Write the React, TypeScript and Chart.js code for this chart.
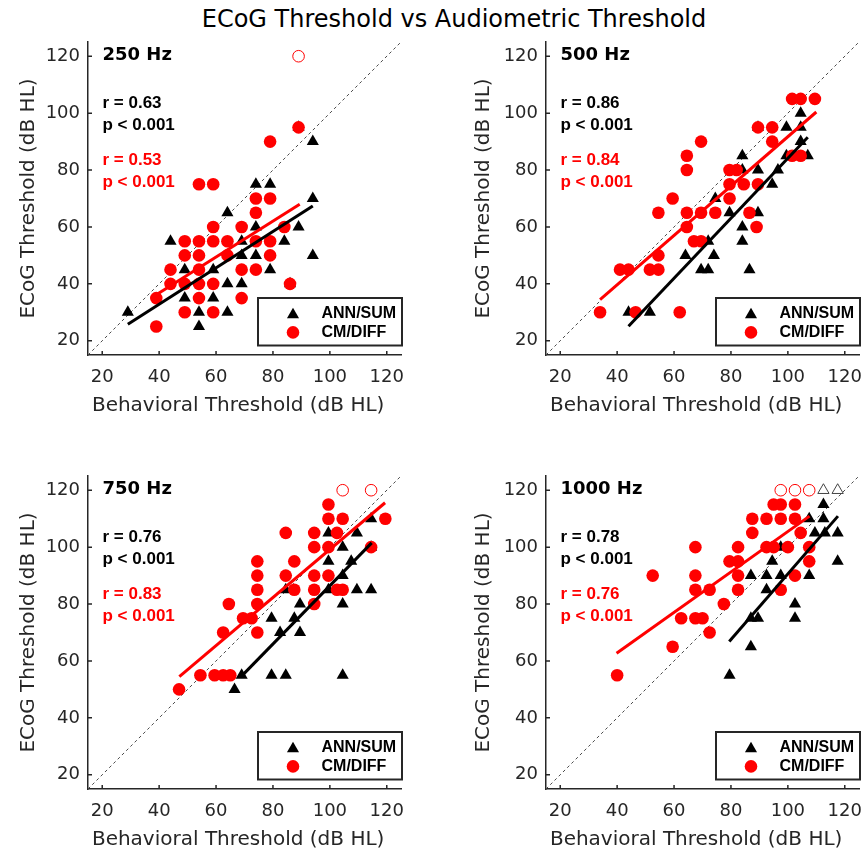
import React, { useEffect, useRef } from 'react';
import { Chart, registerables } from 'chart.js';

Chart.register(...registerables);

type Pt = [number, number];

// ---------- data ----------
const TICK_VALUES = [20, 40, 60, 80, 100, 120];
const AXIS_MIN = 15;
const AXIS_MAX = 125;

const FREQ_LABELS = ['250 Hz', '500 Hz', '750 Hz', '1000 Hz'];
const R_ANN = ['r = 0.63', 'r = 0.86', 'r = 0.76', 'r = 0.78'];
const R_CM = ['r = 0.53', 'r = 0.84', 'r = 0.83', 'r = 0.76'];
const P_ANN = ['p < 0.001', 'p < 0.001', 'p < 0.001', 'p < 0.001'];
const P_CM = ['p < 0.001', 'p < 0.001', 'p < 0.001', 'p < 0.001'];
const LEGEND_LABELS = ['ANN/SUM', 'CM/DIFF'];

const ANN_250: Pt[] = [[29,30],[44,55],[49,45],[49,35],[54,30],[54,25],[59,45],[59,35],[64,65],[64,40],[64,30],[69,40],[69,50],[69,55],[74,75],[79,75],[74,60],[74,50],[79,45],[84,55],[89,60],[94,70],[94,50],[86,40],[89,95],[94,90]];
const CM_250: Pt[] = [[54,75],[59,75],[74,70],[79,70],[74,65],[59,60],[69,60],[84,60],[49,55],[54,55],[59,55],[64,55],[74,55],[79,55],[49,50],[54,50],[64,50],[79,50],[44,45],[54,45],[69,45],[74,45],[44,40],[49,40],[54,40],[59,40],[86,40],[39,35],[54,35],[69,35],[49,30],[59,30],[39,25],[79,90],[89,95]];
const ANN_250_OPEN: Pt[] = [];
const CM_250_OPEN: Pt[] = [[89,120]];
const FIT_ANN_250: Pt[] = [[29,25.8],[94,67.4]];
const FIT_CM_250: Pt[] = [[39,36.2],[89.4,68]];

const ANN_500: Pt[] = [[44,30],[51.5,30],[64,50],[69.5,45],[72,45],[72,55],[74,50],[74.5,70],[79.5,65],[84,60],[84,55],[86.5,45],[84,85],[84,80],[89.5,80],[89.5,65],[94.5,75],[96.5,80],[99.5,85],[99.5,95],[89.5,95],[104.5,100],[104.5,95],[104.5,90],[107,85]];
const CM_500: Pt[] = [[34,30],[41,45],[44,45],[46.5,30],[51.5,45],[54.5,45],[54.5,50],[54.5,65],[59.5,70],[62,30],[64.5,60],[64.5,65],[64.5,80],[64.5,85],[67,55],[69.5,55],[69.5,65],[69.5,90],[74.5,65],[79.5,70],[79.5,75],[79.5,80],[82,80],[84.5,75],[86.5,65],[89,60],[89.5,75],[89.5,95],[94.5,95],[94.5,90],[101.5,85],[104.5,85],[101.5,105],[104.5,105],[109.5,105]];
const ANN_500_OPEN: Pt[] = [];
const CM_500_OPEN: Pt[] = [];
const FIT_ANN_500: Pt[] = [[44,25.1],[107,91.5]];
const FIT_CM_500: Pt[] = [[34,34.5],[110,100.4]];

const ANN_750: Pt[] = [[66.5,50],[69,55],[79.5,55],[84.5,55],[104.5,55],[79.5,75],[87.5,75],[82.5,70],[89.5,70],[89.5,80],[84.5,85],[99.5,85],[99.5,95],[99.5,105],[104.5,100],[104.5,90],[104.5,80],[107.5,95],[109.5,105],[109.5,85],[114.5,85],[114.5,110],[114.5,100]];
const CM_750: Pt[] = [[47,50],[54.5,55],[59.5,55],[62.5,55],[65,55],[62.5,70],[64.5,80],[69.5,75],[72.5,75],[74.5,70],[74.5,80],[74.5,85],[74.5,90],[74.5,95],[84.5,90],[87.5,85],[87.5,95],[84.5,105],[94.5,105],[94.5,100],[94.5,90],[94.5,85],[94.5,80],[99.5,90],[99.5,100],[99.5,110],[99.5,115],[104.5,110],[102.5,105],[102.5,85],[104.5,85],[114.5,100],[119.5,110]];
const ANN_750_OPEN: Pt[] = [];
const CM_750_OPEN: Pt[] = [[104.5,120],[114.5,120]];
const FIT_ANN_750: Pt[] = [[68.8,54.5],[114.7,101.5]];
const FIT_CM_750: Pt[] = [[47.1,54.5],[119.4,115.6]];

const ANN_1000: Pt[] = [[79.5,55],[87,65],[87,75],[89.5,75],[92.5,85],[87,90],[92.5,90],[97.5,90],[94.5,95],[97.5,100],[102.5,80],[102.5,75],[107.5,90],[107.5,110],[112.5,110],[112.5,115],[109.5,105],[113,105],[117.5,105],[117.5,95]];
const CM_1000: Pt[] = [[40,55],[52.5,90],[59.5,65],[62.5,75],[67.5,75],[70,75],[67.5,85],[67.5,90],[67.5,100],[72.5,85],[72.5,70],[77.5,80],[79.5,95],[82.5,95],[82.5,100],[82.5,90],[82.5,85],[87.5,105],[87.5,110],[92.5,110],[92.5,100],[95,100],[95,115],[97.5,115],[102.5,115],[97.5,110],[102.5,110],[100,100],[97.5,85],[102.5,90],[104.5,105],[107.5,100],[107.5,95]];
const ANN_1000_OPEN: Pt[] = [[112.5,120],[117.5,120]];
const CM_1000_OPEN: Pt[] = [[97.5,120],[102.5,120],[107.5,120]];
const FIT_ANN_1000: Pt[] = [[79.4,66.8],[117.6,110.9]];
const FIT_CM_1000: Pt[] = [[39.8,62.7],[107.6,110.9]];

const PANELS = [
  { ann: ANN_250, cm: CM_250, annOpen: ANN_250_OPEN, cmOpen: CM_250_OPEN, fitAnn: FIT_ANN_250, fitCm: FIT_CM_250 },
  { ann: ANN_500, cm: CM_500, annOpen: ANN_500_OPEN, cmOpen: CM_500_OPEN, fitAnn: FIT_ANN_500, fitCm: FIT_CM_500 },
  { ann: ANN_750, cm: CM_750, annOpen: ANN_750_OPEN, cmOpen: CM_750_OPEN, fitAnn: FIT_ANN_750, fitCm: FIT_CM_750 },
  { ann: ANN_1000, cm: CM_1000, annOpen: ANN_1000_OPEN, cmOpen: CM_1000_OPEN, fitAnn: FIT_ANN_1000, fitCm: FIT_CM_1000 },
];

// ---------- layout / style ----------
const GEOM = [
  { left: 0, top: 0, width: 430, height: 430, area: { l: 88, t: 42, r: 401, b: 355 }, yTitleX: 28.5 },
  { left: 431, top: 0, width: 430, height: 430, area: { l: 546, t: 42, r: 859, b: 355 }, yTitleX: 483.5 },
  { left: 0, top: 434, width: 430, height: 422, area: { l: 88, t: 476, r: 401, b: 789 }, yTitleX: 28.5 },
  { left: 431, top: 434, width: 430, height: 422, area: { l: 546, t: 476, r: 859, b: 789 }, yTitleX: 483.5 },
];

const FONT_MAIN = '"DejaVu Sans", sans-serif';
const FONT_BOLD = '"Liberation Sans", Arial, sans-serif';
const AXIS_COLOR = '#262626';
const RED = '#ff0000';

const toXY = (pts: Pt[]) => pts.map(([x, y]) => ({ x, y }));

function drawTriangle(ctx: CanvasRenderingContext2D, x: number, y: number, r: number) {
  ctx.beginPath();
  ctx.moveTo(x, y - r);
  ctx.lineTo(x + r * Math.sin((2 * Math.PI) / 3), y - r * Math.cos((2 * Math.PI) / 3));
  ctx.lineTo(x + r * Math.sin((4 * Math.PI) / 3), y - r * Math.cos((4 * Math.PI) / 3));
  ctx.closePath();
  ctx.fill();
}

function makeOverlay(i: number) {
  return {
    id: 'overlay' + i,
    afterDraw(chart: any) {
      const ctx: CanvasRenderingContext2D = chart.ctx;
      const a = chart.chartArea;
      const xs = chart.scales.x;
      const ys = chart.scales.y;
      ctx.save();
      // inward tick marks
      ctx.strokeStyle = AXIS_COLOR;
      ctx.lineWidth = 1.5;
      ctx.beginPath();
      TICK_VALUES.forEach((v) => {
        const px = xs.getPixelForValue(v);
        ctx.moveTo(px, a.bottom);
        ctx.lineTo(px, a.bottom - 4);
        const py = ys.getPixelForValue(v);
        ctx.moveTo(a.left, py);
        ctx.lineTo(a.left + 4, py);
      });
      ctx.stroke();

      // annotations
      const tx = a.left + 14.5;
      ctx.textAlign = 'left';
      ctx.textBaseline = 'middle';
      ctx.fillStyle = '#000';
      ctx.font = `bold 18px ${FONT_MAIN}`;
      ctx.fillText(FREQ_LABELS[i], tx, a.top + 13.5);
      ctx.font = `bold 17px ${FONT_BOLD}`;
      ctx.fillText(R_ANN[i], tx, a.top + 61.5);
      ctx.fillText(P_ANN[i], tx, a.top + 83.5);
      ctx.fillStyle = RED;
      ctx.fillText(R_CM[i], tx, a.top + 118.5);
      ctx.fillText(P_CM[i], tx, a.top + 140.5);

      // legend box
      const lw = 144;
      const lh = 47.5;
      const lx = a.right + 1 - lw;
      const ly = a.bottom - 57;
      ctx.fillStyle = '#fff';
      ctx.fillRect(lx, ly, lw, lh);
      ctx.strokeStyle = AXIS_COLOR;
      ctx.lineWidth = 2;
      ctx.strokeRect(lx, ly, lw, lh);
      ctx.fillStyle = '#000';
      drawTriangle(ctx, lx + 35, ly + 16.7, 7);
      ctx.fillStyle = RED;
      ctx.beginPath();
      ctx.arc(lx + 35, ly + 34.4, 6.3, 0, Math.PI * 2);
      ctx.fill();
      ctx.fillStyle = '#000';
      ctx.font = `bold 16px ${FONT_BOLD}`;
      ctx.fillText(LEGEND_LABELS[0], lx + 63.5, ly + 15.5);
      ctx.fillText(LEGEND_LABELS[1], lx + 63.5, ly + 35);
      ctx.restore();
    },
  };
}

function buildConfig(i: number): any {
  const g = GEOM[i];
  const p = PANELS[i];
  const padTop = g.area.t - g.top;
  const padRight = g.left + g.width - g.area.r;
  const yAxisW = g.area.l - g.left;
  const xAxisH = g.top + g.height - g.area.b;
  const xTitlePad = xAxisH - 51.2 - 12;
  const yTitlePad = g.yTitleX - g.left - 12;

  const tickSetter = (scale: any) => {
    scale.ticks = TICK_VALUES.map((v) => ({ value: v }));
  };

  return {
    type: 'scatter',
    data: {
      datasets: [
        {
          label: 'unity',
          data: [{ x: AXIS_MIN, y: AXIS_MIN }, { x: AXIS_MAX, y: AXIS_MAX }],
          showLine: true,
          borderColor: '#4a4a4a',
          borderWidth: 1,
          borderDash: [3, 3],
          pointRadius: 0,
          order: 10,
        },
        {
          label: LEGEND_LABELS[0],
          data: toXY(p.ann),
          pointStyle: 'triangle',
          pointRadius: 7,
          backgroundColor: '#000',
          borderColor: '#000',
          borderWidth: 0,
          order: 6,
        },
        {
          label: LEGEND_LABELS[0] + ' (censored)',
          data: toXY(p.annOpen),
          pointStyle: 'triangle',
          pointRadius: 6.5,
          backgroundColor: 'rgba(0,0,0,0)',
          borderColor: '#444',
          borderWidth: 1,
          order: 5,
        },
        {
          label: LEGEND_LABELS[1],
          data: toXY(p.cm),
          pointStyle: 'circle',
          pointRadius: 6.3,
          backgroundColor: RED,
          borderColor: RED,
          borderWidth: 0,
          order: 4,
        },
        {
          label: LEGEND_LABELS[1] + ' (censored)',
          data: toXY(p.cmOpen),
          pointStyle: 'circle',
          pointRadius: 5.8,
          backgroundColor: 'rgba(0,0,0,0)',
          borderColor: RED,
          borderWidth: 1,
          order: 3,
        },
        {
          label: 'fit ANN',
          data: toXY(p.fitAnn),
          showLine: true,
          borderColor: '#000',
          borderWidth: 3,
          pointRadius: 0,
          order: 2,
        },
        {
          label: 'fit CM',
          data: toXY(p.fitCm),
          showLine: true,
          borderColor: RED,
          borderWidth: 3,
          pointRadius: 0,
          order: 1,
        },
      ],
    },
    options: {
      responsive: false,
      animation: false,
      events: [],
      layout: { autoPadding: false, padding: { left: 0, top: padTop, right: padRight, bottom: 0 } },
      plugins: { legend: { display: false }, tooltip: { enabled: false }, title: { display: false } },
      scales: {
        x: {
          type: 'linear',
          position: 'bottom',
          min: AXIS_MIN,
          max: AXIS_MAX,
          afterBuildTicks: tickSetter,
          afterFit: (s: any) => {
            s.height = xAxisH;
            s.paddingLeft = 0;
            s.paddingRight = 0;
            s.paddingTop = 0;
            s.paddingBottom = 0;
          },
          grid: { display: true, drawOnChartArea: false, drawTicks: false },
          border: { display: true, color: AXIS_COLOR, width: 1.5 },
          ticks: { color: AXIS_COLOR, font: { family: FONT_MAIN, size: 18 }, padding: 12, maxRotation: 0, autoSkip: false },
          title: {
            display: true,
            text: 'Behavioral Threshold (dB HL)  ',
            color: AXIS_COLOR,
            font: { family: FONT_MAIN, size: 20 },
            padding: { top: 0, bottom: xTitlePad },
          },
        },
        y: {
          type: 'linear',
          position: 'left',
          min: AXIS_MIN,
          max: AXIS_MAX,
          afterBuildTicks: tickSetter,
          afterFit: (s: any) => {
            s.width = yAxisW;
            s.paddingLeft = 0;
            s.paddingRight = 0;
            s.paddingTop = 0;
            s.paddingBottom = 0;
          },
          grid: { display: true, drawOnChartArea: false, drawTicks: false },
          border: { display: true, color: AXIS_COLOR, width: 1.5 },
          ticks: { color: AXIS_COLOR, font: { family: FONT_MAIN, size: 18 }, padding: 8, autoSkip: false },
          title: {
            display: true,
            text: 'ECoG Threshold (dB HL)',
            color: AXIS_COLOR,
            font: { family: FONT_MAIN, size: 20 },
            padding: { top: yTitlePad, bottom: 0 },
          },
        },
      },
    },
    plugins: [makeOverlay(i)],
  };
}

function Panel({ idx }: { idx: number }) {
  const ref = useRef<HTMLCanvasElement>(null);
  const g = GEOM[idx];
  useEffect(() => {
    if (!ref.current) return;
    const chart = new Chart(ref.current, buildConfig(idx));
    return () => chart.destroy();
  }, [idx]);
  return (
    <canvas
      ref={ref}
      width={g.width}
      height={g.height}
      style={{ position: 'absolute', left: g.left, top: g.top, width: g.width, height: g.height }}
    />
  );
}

export default function App() {
  return (
    <div style={{ position: 'absolute', left: 0, top: 0, width: 861, height: 856, background: '#fff', overflow: 'hidden' }}>
      <div
        style={{
          position: 'absolute',
          left: 454,
          top: 5,
          transform: 'translateX(-50%)',
          whiteSpace: 'nowrap',
          fontFamily: FONT_MAIN,
          fontSize: 24,
          lineHeight: '28px',
          color: '#000',
        }}
      >
        ECoG Threshold vs Audiometric Threshold
      </div>
      {[0, 1, 2, 3].map((i) => (
        <Panel key={i} idx={i} />
      ))}
    </div>
  );
}
